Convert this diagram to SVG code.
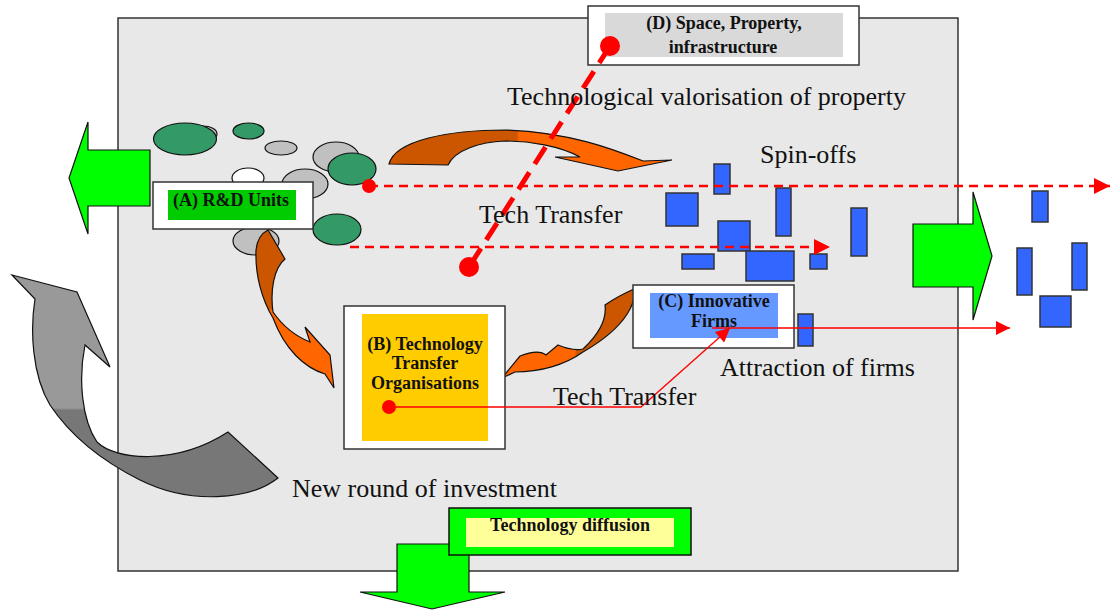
<svg xmlns="http://www.w3.org/2000/svg" width="1112" height="611" viewBox="0 0 1112 611">
<style>
.lbl{font-family:"Liberation Serif","Times New Roman",serif;font-size:26px;fill:#111}
.bl{font-family:"Liberation Serif","Times New Roman",serif;font-size:18px;font-weight:bold;fill:#111;text-anchor:middle}
.grn{fill:#339966;stroke:#111;stroke-width:1.2}
.gry{fill:#c0c0c0;stroke:#111;stroke-width:1.2}
.blu{fill:#3366ff;stroke:#333;stroke-width:1.5}
.garrow{fill:#00ff00;stroke:#111;stroke-width:1.2}
.dash{stroke:#ff0000;stroke-width:2.5;stroke-dasharray:9 6;fill:none}
.red{fill:#ff0000}
.box{fill:#fff;stroke:#333;stroke-width:1.5}
</style>
<defs>
<linearGradient id="og1" x1="0" y1="0" x2="1" y2="0">
<stop offset="0.45" stop-color="#cc5500"/><stop offset="0.46" stop-color="#ff6600"/>
</linearGradient>
<linearGradient id="og2" x1="0" y1="0" x2="0" y2="1">
<stop offset="0.5" stop-color="#cc5500"/><stop offset="0.51" stop-color="#ff6600"/>
</linearGradient>
<linearGradient id="og3" x1="0" y1="0" x2="1" y2="0">
<stop offset="0.55" stop-color="#ff6600"/><stop offset="0.56" stop-color="#cc5500"/>
</linearGradient>
<linearGradient id="gg" x1="0" y1="0" x2="0" y2="1">
<stop offset="0.6" stop-color="#999999"/><stop offset="0.61" stop-color="#777777"/>
</linearGradient>
<marker id="ah" viewBox="0 0 10 10" refX="10" refY="5" markerWidth="18" markerHeight="16" markerUnits="userSpaceOnUse" orient="auto">
<path d="M0,0 L10,5 L0,10 Z" fill="#ff0000"/>
</marker>
<marker id="ahs" viewBox="0 0 10 10" refX="10" refY="5" markerWidth="16" markerHeight="14" markerUnits="userSpaceOnUse" orient="auto">
<path d="M0,0 L10,5 L0,10 Z" fill="#ff0000"/>
</marker>
</defs>
<rect width="1112" height="611" fill="#fff"/>
<rect id="frame" x="118" y="18" width="840" height="553" fill="#e8e8e8" stroke="#333" stroke-width="1.5"/>

<g id="left-arrow"><path class="garrow" d="M150,150 L88,150 L88,122 L69,178 L88,234 L88,206 L150,206 Z"/></g>
<g id="right-arrow"><path class="garrow" d="M913,224 L973,224 L973,192 L992,256 L973,320 L973,287 L913,287 Z"/></g>
<g id="down-arrow"><path class="garrow" d="M397,544 L469,544 L469,592 L505,592 L432,609 L360,592 L397,592 Z"/></g>

<g id="rd-cluster">
<ellipse class="gry" cx="203" cy="134" rx="14" ry="8"/>
<ellipse class="grn" cx="185" cy="139" rx="31.5" ry="16"/>
<ellipse class="grn" cx="248.5" cy="131" rx="15.5" ry="8"/>
<ellipse class="gry" cx="281" cy="148" rx="16" ry="7"/>
<ellipse class="gry" cx="336" cy="157" rx="23" ry="15"/>
<ellipse cx="248" cy="178" rx="16" ry="10" fill="#fff" stroke="#111" stroke-width="1.2"/>
<ellipse class="gry" cx="305" cy="184" rx="23" ry="15"/>
<ellipse class="grn" cx="352" cy="169" rx="24" ry="16"/>
<ellipse class="grn" cx="337" cy="229.5" rx="24" ry="15.5"/>
<ellipse class="gry" cx="256" cy="241" rx="23" ry="14"/>
</g>

<g id="firms-cluster">
<rect class="blu" x="714" y="164" width="16" height="30"/>
<rect class="blu" x="666" y="193" width="32" height="33"/>
<rect class="blu" x="776" y="188" width="15" height="48"/>
<rect class="blu" x="718" y="221" width="32" height="30"/>
<rect class="blu" x="682" y="254" width="32" height="15"/>
<rect class="blu" x="746" y="251" width="48" height="30"/>
<rect class="blu" x="810" y="254" width="17" height="15"/>
<rect class="blu" x="851" y="208" width="16" height="48"/>
<rect class="blu" x="798" y="314" width="15" height="32"/>
<rect class="blu" x="1032" y="191" width="16" height="31"/>
<rect class="blu" x="1017" y="248" width="15" height="47"/>
<rect class="blu" x="1072" y="243" width="15" height="47"/>
<rect class="blu" x="1040" y="296" width="31" height="31"/>
</g>

<g id="gray-arrow"><path d="M12,275 L77,292 L110,367 L85,345 C78,380 82,420 97,442 C115,460 175,466 228,432 L278,478 C250,500 190,505 140,480 C100,460 70,435 50,405 C32,375 30,330 35,299 Z" fill="url(#gg)" stroke="#111" stroke-width="1.2"/></g>

<g id="orange-arrows" stroke="#111" stroke-width="1.2">
<path d="M389,164 C395,140 450,130 505,130 C570,132 615,150 643,161 L672,160 L618,171 L555,157 L580,157 C560,146 530,141 505,141 C480,142 455,150 448,165 Z" fill="url(#og1)"/>
<path d="M268,230 L285,259 C274,268 270,290 273,312 C282,325 295,336 310,342 L305,327 L330,355 L334,388 L325,374 C305,368 285,350 273,318 C262,300 255,275 256,250 C257,240 262,233 268,230 Z" fill="url(#og2)"/>
<path d="M634,289 C636,300 630,325 583,352 C565,365 540,372 515,372 L502,378 L520,356 C530,352 540,350 546,355 L558,345 C570,350 578,350 583,349 C598,335 607,320 605,305 C615,298 625,293 634,289 Z" fill="url(#og3)"/>
</g>

<g id="node-a">
<rect class="box" x="153" y="182" width="160" height="47"/>
<rect x="168" y="190" width="128" height="30" fill="#00cc00"/>
<text class="bl" x="231" y="206">(A) R&amp;D Units</text>
</g>

<g id="node-b">
<rect class="box" x="344" y="306" width="161" height="143"/>
<rect x="362" y="314" width="126" height="127" fill="#ffcc00"/>
<text class="bl" x="425" y="350">(B) Technology</text>
<text class="bl" x="425" y="369">Transfer</text>
<text class="bl" x="425" y="389">Organisations</text>
</g>

<g id="node-c">
<rect class="box" x="633" y="285" width="161" height="63"/>
<rect x="650" y="293" width="128" height="45" fill="#6699ff"/>
<text class="bl" x="714" y="307">(C) Innovative</text>
<text class="bl" x="714" y="327">Firms</text>
</g>

<g id="node-d">
<rect class="box" x="588" y="6" width="271" height="59"/>
<rect x="605" y="13" width="238" height="44" fill="#d9d9d9"/>
<text class="bl" x="724" y="29">(D) Space, Property,</text>
<text class="bl" x="723" y="53">infrastructure</text>
</g>

<g id="node-diffusion">
<rect x="449" y="508" width="242" height="47" fill="#00ff00" stroke="#111" stroke-width="1.5"/>
<rect x="466" y="518" width="208" height="29" fill="#ffff99"/>
<text class="bl" x="570" y="531">Technology diffusion</text>
</g>

<g id="connectors">
<line x1="610" y1="46" x2="469" y2="267" stroke="#ff0000" stroke-width="5" stroke-dasharray="20 10"/>
<circle class="red" cx="610" cy="46" r="10"/>
<circle class="red" cx="469" cy="267" r="10"/>
<line class="dash" x1="369" y1="186" x2="1110" y2="186" marker-end="url(#ah)"/>
<circle class="red" cx="369" cy="186" r="7"/>
<line class="dash" x1="350" y1="247" x2="830" y2="247" marker-end="url(#ah)"/>
<polyline points="389,407 641,407 730,328" fill="none" stroke="#ff0000" stroke-width="1.3" marker-end="url(#ahs)"/>
<line x1="712" y1="328" x2="1010" y2="328" stroke="#ff0000" stroke-width="1.3" marker-end="url(#ahs)"/>
<circle class="red" cx="389" cy="407" r="7"/>
</g>

<g id="labels">
<text class="lbl" x="507" y="105">Technological valorisation of property</text>
<text class="lbl" x="760" y="163">Spin-offs</text>
<text class="lbl" x="479" y="223">Tech Transfer</text>
<text class="lbl" x="720" y="376">Attraction of firms</text>
<text class="lbl" x="553" y="405">Tech Transfer</text>
<text class="lbl" x="292" y="497">New round of investment</text>
</g>
</svg>
